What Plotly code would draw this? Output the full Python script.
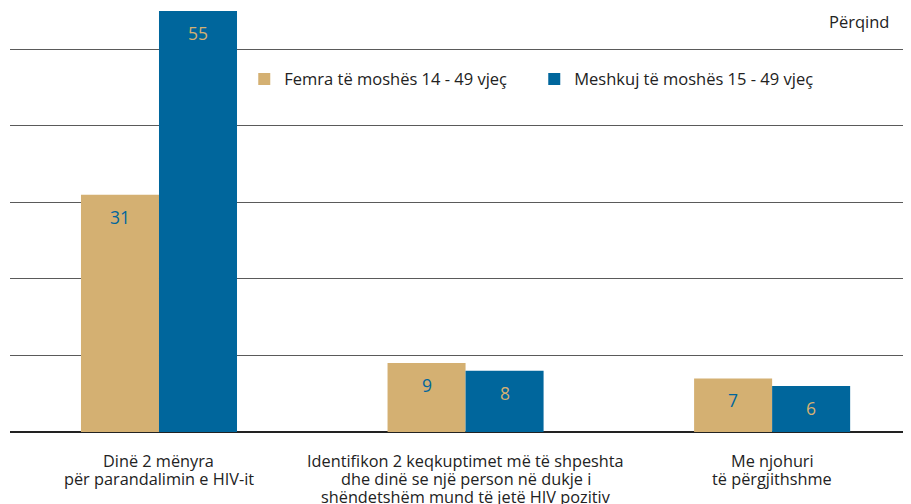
import plotly.graph_objects as go

categories = [
    "Dinë 2 mënyra<br>për parandalimin e HIV-it",
    "Identifikon 2 keqkuptimet më të shpeshta<br>dhe dinë se një person në dukje i<br>shëndetshëm mund të jetë HIV pozitiv",
    "Me njohuri<br>të përgjithshme",
]
series_names = ["Femra të moshës 14 - 49 vjeç", "Meshkuj të moshës 15 - 49 vjeç"]
female = [31, 9, 7]
male = [55, 8, 6]

GOLD = "#D4B072"
BLUE = "#00669C"
FONT = "Open Sans"

fig = go.Figure()
fig.add_trace(go.Bar(name=series_names[0], x=categories, y=female, marker_color=GOLD,
                     marker_line_width=0))
fig.add_trace(go.Bar(name=series_names[1], x=categories, y=male, marker_color=BLUE,
                     marker_line_width=0))

# value labels inside bars near the top
for vals, shift, col in [(female, -39, BLUE), (male, 39, GOLD)]:
    for c, v in zip(categories, vals):
        fig.add_annotation(x=c, y=v, xref="x", yref="y", text=str(v), showarrow=False,
                           xshift=shift, yshift=-22, yanchor="middle",
                           font=dict(family=FONT, size=17.5, color=col))

# category labels under the axis, one line at a time (tight leading)
for c in categories:
    for i, line in enumerate(c.split("<br>")):
        fig.add_annotation(x=c, y=0, xref="x", yref="y", text=line, showarrow=False,
                           yanchor="middle", yshift=-(29 + 18 * i),
                           font=dict(family=FONT, size=16.3, color="#222"))

fig.add_annotation(x=0.978, y=0.974, xref="paper", yref="paper", text="Përqind",
                   showarrow=False, xanchor="right", yanchor="middle",
                   font=dict(family=FONT, size=16.5, color="#222"))

fig.update_layout(
    width=903, height=496,
    margin=dict(l=2, r=0, t=3, b=72),
    paper_bgcolor="white", plot_bgcolor="white",
    barmode="group", bargap=0.491, bargroupgap=0,
    showlegend=True,
    legend=dict(orientation="h", x=0.26, y=0.838, xanchor="left", yanchor="middle",
                font=dict(family=FONT, size=16.5, color="#222"),
                entrywidth=245, entrywidthmode="pixels",
                bgcolor="rgba(0,0,0,0)"),
    xaxis=dict(range=[-0.486, 2.453], showgrid=False, ticks="", automargin=False,
               showticklabels=False, showline=False, zeroline=False),
    yaxis=dict(range=[0, 55], dtick=10, showticklabels=False, showgrid=True,
               gridcolor="#5a5a5a", gridwidth=1, zeroline=True, zerolinecolor="#222",
               zerolinewidth=1.5, showline=False, automargin=False),
)

fig.write_html("out.html")
